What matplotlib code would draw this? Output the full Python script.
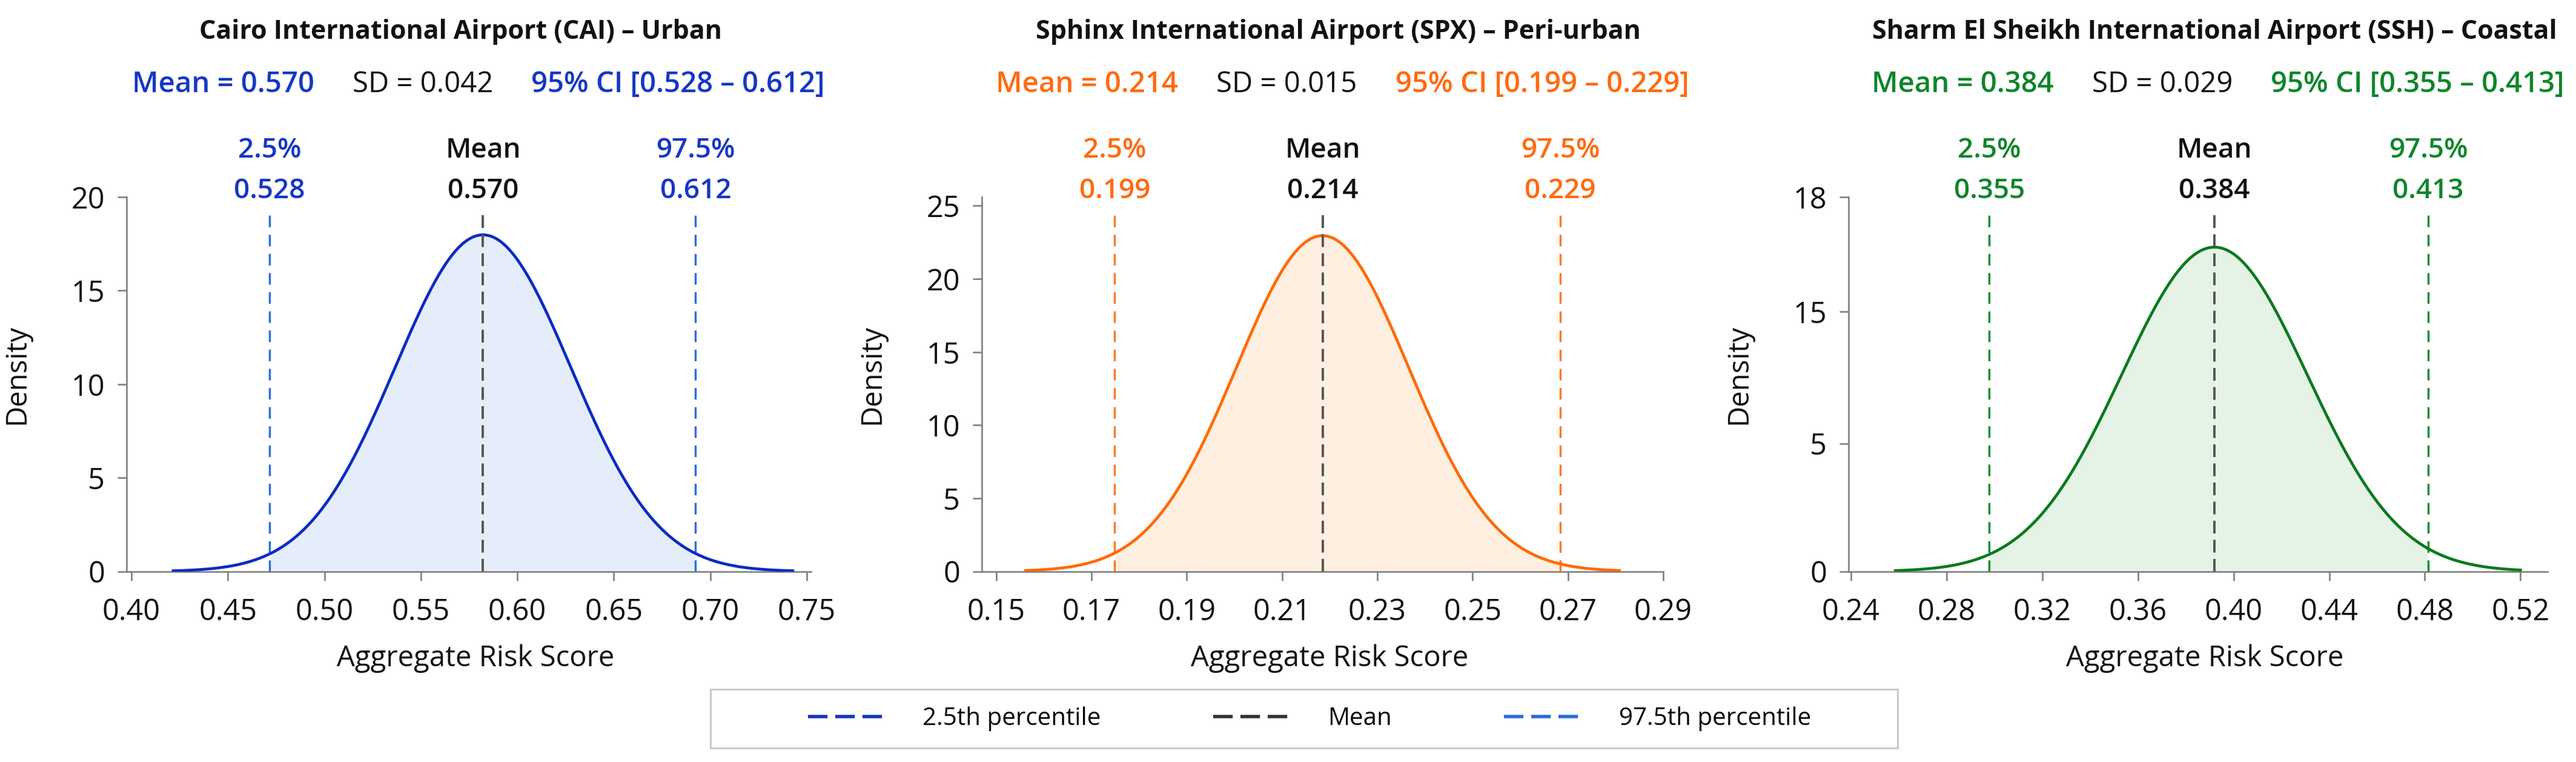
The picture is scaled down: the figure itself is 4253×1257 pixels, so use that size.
import numpy as np
import matplotlib
matplotlib.use("Agg")
import matplotlib.pyplot as plt
from matplotlib.lines import Line2D
from matplotlib.patches import Rectangle

plt.rcParams['font.family'] = ['Open Sans', 'DejaVu Sans']

# ---- data ----
titles = ['Cairo International Airport (CAI) \u2013 Urban',
          'Sphinx International Airport (SPX) \u2013 Peri-urban',
          'Sharm El Sheikh International Airport (SSH) \u2013 Coastal']
stat_means = [0.570, 0.214, 0.384]
stat_sds = [0.042, 0.015, 0.029]
stat_ci_low = [0.528, 0.199, 0.355]
stat_ci_high = [0.612, 0.229, 0.413]

# where the curves / reference lines sit on the drawn x axes
line_mean = [0.5822, 0.2185, 0.392]
line_p025 = [0.4716, 0.1749, 0.2978]
line_p975 = [0.6924, 0.2684, 0.4814]
curve_sd = [0.0455, 0.0181, 0.0388]
curve_peak = [17.98, 22.96, 15.59]
curve_start = [0.4209, 0.1559, 0.258]
curve_end = [0.7435, 0.2811, 0.5206]

x_ticks = [[0.40, 0.45, 0.50, 0.55, 0.60, 0.65, 0.70, 0.75],
           [0.15, 0.17, 0.19, 0.21, 0.23, 0.25, 0.27, 0.29],
           [0.24, 0.28, 0.32, 0.36, 0.40, 0.44, 0.48, 0.52]]
y_tick_labels = [['0', '5', '10', '15', '20'],
                 ['0', '5', '10', '15', '20', '25'],
                 ['0', '5', '15', '18']]

# ---- styles ----
curve_colors = ['#0a2cc2', '#ff6a00', '#0a7a1c']
text_colors = ['#1537c4', '#ff6a10', '#0e852a']
pct_colors = ['#2f6ede', '#ff7a26', '#178f33']
fill_colors = ['#e5edfa', '#ffefe0', '#e4f3e6']
mean_color = '#555555'
spine_color = '#808080'
black = '#111111'

x_lims = [(0.3975, 0.7522), (0.147, 0.290), (0.239, 0.5313)]
y_lims = [(0, 20), (0, 25.6), (0, 18)]
y_tick_pos = [[0, 5, 10, 15, 20], [0, 5, 10, 15, 20, 25], [0, 6.15, 12.48, 18]]

W, H = 4253, 1257
ax_px = [(209, 1130), (1621, 1125), (3052, 1154)]
ax_bottom = 942.7
ax_top = 325.0
title_x = [0.488, 0.523, 0.524]
sd_x = [0.433, 0.4475, 0.4487]

fig = plt.figure(figsize=(W / 100, H / 100), dpi=100)
fig.patch.set_facecolor('white')

for i in range(3):
    left, width = ax_px[i]
    ax = fig.add_axes([left / W, (H - ax_bottom) / H, width / W, (ax_bottom - ax_top) / H])

    x = np.linspace(curve_start[i], curve_end[i], 500)
    y = curve_peak[i] * np.exp(-0.5 * ((x - line_mean[i]) / curve_sd[i]) ** 2)
    inside = (x >= line_p025[i]) & (x <= line_p975[i])
    ax.fill_between(x, 0, y, where=inside, color=fill_colors[i], lw=0, zorder=1)
    ax.plot(x, y, color=curve_colors[i], lw=3.4, zorder=4, solid_capstyle='butt')

    for xv in (line_p025[i], line_p975[i]):
        ax.axvline(xv, ymin=0, ymax=0.951, color=pct_colors[i], lw=2.5,
                   linestyle=(0, (5.5, 3.6)), zorder=3)
    ax.axvline(line_mean[i], ymin=0, ymax=0.951, color=mean_color, lw=2.8,
               linestyle=(0, (5.4, 2.7)), zorder=5)

    ax.set_xlim(*x_lims[i])
    ax.set_ylim(*y_lims[i])
    ax.set_xticks(x_ticks[i])
    ax.set_xticklabels(['%.2f' % v for v in x_ticks[i]])
    ax.set_yticks(y_tick_pos[i])
    ax.set_yticklabels(y_tick_labels[i])

    for s in ('top', 'right'):
        ax.spines[s].set_visible(False)
    for s in ('left', 'bottom'):
        ax.spines[s].set_color(spine_color)
        ax.spines[s].set_linewidth(1.9)
    ax.tick_params(axis='both', colors=spine_color, labelcolor=black,
                   length=11, width=1.9, labelsize=35)
    ax.tick_params(axis='x', pad=20)
    ax.tick_params(axis='y', pad=15)

    ax.set_xlabel('Aggregate Risk Score', fontsize=34, color=black)
    ax.xaxis.label.set_va('baseline')
    ax.xaxis.set_label_coords(0.51, -0.253)
    ax.set_ylabel('Density', fontsize=34, color=black)
    ax.yaxis.set_label_coords(-158 / width, 0.527)

    # title and summary line
    ax.text(title_x[i], 1.4233, titles[i], transform=ax.transAxes, ha='center',
            va='baseline', fontsize=31, fontweight='bold', color=black)
    mid = ax.text(sd_x[i], 1.28, 'SD = %.3f' % stat_sds[i], transform=ax.transAxes,
                  ha='center', va='baseline', fontsize=34, color=black)
    ax.annotate('Mean = %.3f' % stat_means[i], xy=(0, 0), xycoords=mid,
                xytext=(-63, 0), textcoords='offset pixels', ha='right', va='bottom',
                fontsize=34, fontweight='semibold', color=text_colors[i])
    ax.annotate('95%% CI [%.3f \u2013 %.3f]' % (stat_ci_low[i], stat_ci_high[i]),
                xy=(1, 0), xycoords=mid, xytext=(63, 0), textcoords='offset pixels',
                ha='left', va='bottom', fontsize=34, fontweight='semibold',
                color=text_colors[i])

    # labels above the reference lines
    trans = ax.get_xaxis_transform()
    marks = [(line_p025[i], '2.5%', stat_ci_low[i], text_colors[i]),
             (line_mean[i], 'Mean', stat_means[i], black),
             (line_p975[i], '97.5%', stat_ci_high[i], text_colors[i])]
    for xv, name, val, col in marks:
        ax.text(xv, 1.106, name, transform=trans, ha='center', va='baseline',
                fontsize=33, fontweight='semibold', color=col)
        ax.text(xv, 0.9968, '%.3f' % val, transform=trans, ha='center', va='baseline',
                fontsize=33, fontweight='semibold', color=col)

# legend box and legend
fig.patches.append(Rectangle((1173 / W, (H - 1234) / H), 1960 / W, 97.3 / H,
                             transform=fig.transFigure, facecolor='white',
                             edgecolor='#c4c4c4', lw=2.0, zorder=0))
handles = [Line2D([], [], color='#1438b8', lw=4.0, linestyle=(0, (5.8, 2.3))),
           Line2D([], [], color='#333333', lw=4.0, linestyle=(0, (5.8, 2.3))),
           Line2D([], [], color='#2a6bd8', lw=4.0, linestyle=(0, (5.8, 2.3)))]
fig.legend(handles, ['2.5th percentile', 'Mean', '97.5th percentile'],
           loc='center', bbox_to_anchor=(2162 / W, (H - 1186) / H), ncol=3,
           frameon=False, fontsize=29, handlelength=3.3, handletextpad=1.4,
           columnspacing=4.6)

fig.savefig('out.png', dpi=100, facecolor='white')
